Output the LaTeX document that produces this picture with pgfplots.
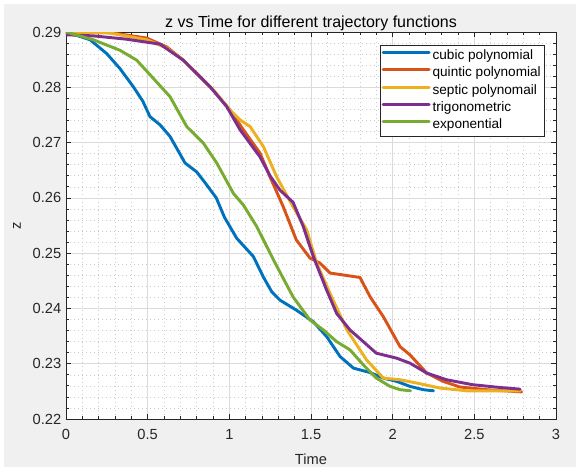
\documentclass[border=0pt]{standalone}
\usepackage{fontspec}
\setmainfont{Liberation Sans}
\usepackage{pgfplots}
\pgfplotsset{compat=1.18}

% MATLAB default line colours
\definecolor{mblue}{rgb}{0,0.447,0.741}
\definecolor{morange}{rgb}{0.85,0.325,0.098}
\definecolor{myellow}{rgb}{0.929,0.694,0.125}
\definecolor{mpurple}{rgb}{0.494,0.184,0.556}
\definecolor{mgreen}{rgb}{0.466,0.674,0.188}
\definecolor{figbg}{RGB}{240,240,240}
\definecolor{axcol}{rgb}{0.15,0.15,0.15}

\begin{document}
\begin{tikzpicture}[x=0.75pt,y=0.75pt]
% figure background (1px = 0.75pt, image 576x467)
\path (0,0) rectangle (576,467);
\fill[figbg] (4,0) rectangle (576,463);
\begin{axis}[
    at={(49.5pt,36pt)}, anchor=south west,
    scale only axis,
    width=367.5pt, height=290.25pt,
    xmin=0, xmax=3, ymin=0.22, ymax=0.29,
    xtick={0,0.5,...,3},
    ytick={0.22,0.23,...,0.29},
    minor x tick num=4, minor y tick num=4,
    axis background/.style={fill=white},
    axis line style={axcol, line width=0.5pt},
    tick style={axcol, line width=0.5pt},
    major tick length=4pt, minor tick length=2pt,
    tick align=inside,
    grid=both,
    major grid style={draw=black!14, line width=0.5pt},
    minor grid style={draw=black!20, dash pattern=on 0.75pt off 2.25pt, line width=0.4pt},
    /pgf/number format/assume math mode=true,
    yticklabel style={/pgf/number format/.cd, fixed, fixed zerofill, precision=2},
    ticklabel style={font=\fontsize{11}{13}\selectfont, text=axcol},
    xticklabel style={yshift=-4.5pt},
    title={z vs Time for different trajectory functions},
    title style={font=\fontsize{12}{14}\selectfont, text=black,
        at={(axis description cs:0.5,1)}, anchor=base, yshift=-2.5pt},
    xlabel={Time},
    ylabel={z},
    label style={font=\fontsize{11}{13}\selectfont, text=axcol},
    xlabel style={at={(axis description cs:0.5,0)}, anchor=base, yshift=-34pt},
    ylabel style={yshift=2pt},
    legend style={at={(0.641,0.966)}, anchor=north west,
        draw=axcol, line width=0.4pt, fill=white,
        font=\fontsize{10.2}{12}\selectfont, row sep=0.15pt,
        inner xsep=1pt, inner ysep=1.6pt,
        nodes={inner sep=1.5pt, text height=7.6pt, text depth=2.2pt}},
    legend cell align=left,
    legend image code/.code={\draw[#1] (0pt,2.6pt) -- (34.5pt,2.6pt);},
    every axis plot/.append style={line width=2.2pt, line join=round, line cap=round},
]
\addplot[mblue] coordinates {
(0,0.29) (0.147,0.2886) (0.249,0.2861) (0.33,0.2834) (0.412,0.2801)
(0.47,0.2775) (0.514,0.2747) (0.576,0.2732) (0.637,0.2711) (0.729,0.2663)
(0.80,0.2647) (0.85,0.2628) (0.92,0.2600) (0.97,0.2565) (1.045,0.2527)
(1.147,0.2494) (1.208,0.2457) (1.26,0.2430) (1.31,0.2415) (1.41,0.2397)
(1.514,0.2376) (1.596,0.2349) (1.678,0.2313) (1.76,0.2292) (1.862,0.2284)
(1.943,0.2274) (2.025,0.2268) (2.106,0.2259) (2.188,0.2253) (2.25,0.2251)
};
\addlegendentry{cubic polynomial}
\addplot[morange] coordinates {
(0,0.29) (0.27,0.2899) (0.494,0.2889) (0.617,0.2873) (0.718,0.2849)
(0.821,0.2819) (0.902,0.2795) (1.004,0.2759) (1.086,0.2723) (1.188,0.2681)
(1.249,0.2638) (1.33,0.2584) (1.41,0.2524) (1.494,0.2491) (1.555,0.2482)
(1.617,0.2464) (1.80,0.2456) (1.862,0.2421) (1.943,0.2385) (2.045,0.2331)
(2.106,0.2316) (2.209,0.2283) (2.31,0.2268) (2.41,0.2258) (2.576,0.2253)
(2.79,0.2249)
};
\addlegendentry{quintic polynomial}
\addplot[myellow] coordinates {
(0,0.29) (0.27,0.2898) (0.494,0.2886) (0.617,0.2871) (0.718,0.2849)
(0.821,0.2819) (0.902,0.2795) (1.004,0.2759) (1.066,0.2741) (1.127,0.2729)
(1.208,0.2693) (1.29,0.2638) (1.39,0.2584) (1.474,0.2542) (1.535,0.2482)
(1.617,0.2427) (1.72,0.2361) (1.84,0.2307) (1.943,0.2274) (2.045,0.2271)
(2.147,0.2265) (2.29,0.2256) (2.454,0.2251) (2.78,0.2251)
};
\addlegendentry{septic polynomail}
\addplot[mpurple] coordinates {
(0,0.2895) (0.167,0.2893) (0.37,0.2887) (0.576,0.2878) (0.718,0.2849)
(0.882,0.2801) (0.984,0.2765) (1.066,0.2723) (1.188,0.2674) (1.249,0.2640)
(1.31,0.2614) (1.39,0.2592) (1.453,0.2548) (1.514,0.2494) (1.596,0.2433)
(1.657,0.2391) (1.739,0.2361) (1.82,0.2340) (1.90,0.2319) (2.025,0.2310)
(2.106,0.2301) (2.209,0.2283) (2.33,0.2271) (2.49,0.2262) (2.657,0.2257)
(2.78,0.2254)
};
\addlegendentry{trigonometric}
\addplot[mgreen] coordinates {
(0,0.29) (0.167,0.2886) (0.33,0.2867) (0.433,0.2849) (0.535,0.2816)
(0.637,0.2783) (0.739,0.2729) (0.841,0.2699) (0.923,0.2663) (1.025,0.2608)
(1.086,0.2587) (1.168,0.2548) (1.27,0.2488) (1.39,0.2421) (1.494,0.2379)
(1.576,0.2361) (1.657,0.2340) (1.739,0.2325) (1.82,0.2298) (1.90,0.2274)
(1.984,0.2259) (2.045,0.2253) (2.11,0.2251)
};
\addlegendentry{exponential}
\end{axis}
\end{tikzpicture}
\end{document}
